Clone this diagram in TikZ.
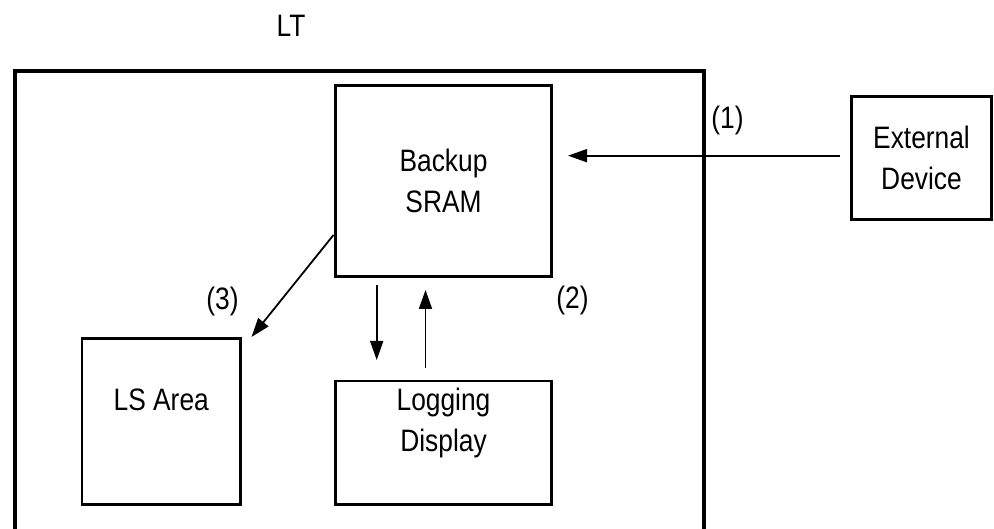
\documentclass[tikz,border=0pt]{standalone}
\usepackage{fontspec}
\setmainfont[FakeStretch=0.85]{Liberation Sans}
\usetikzlibrary{arrows.meta}
\begin{document}
\begin{tikzpicture}[x=1pt,y=1pt,
  every node/.style={font=\fontsize{31}{41}\selectfont,inner sep=0pt,outer sep=0pt},
  unit/.style={draw,line width=2.8pt,align=center},
  arr/.style={line width=1.8pt,-{Triangle[length=19pt,width=13pt]}}]
\useasboundingbox (0,0) rectangle (994,529);
\node[draw,line width=4pt,minimum width=689.3pt,minimum height=478pt] (ltbox) at (359.35,219) {};
\node (lt) at (291,502.7) {LT};
\node[unit,minimum width=216pt,minimum height=191pt] (sram) at (443.5,348) {Backup\\SRAM};
\node[unit,minimum width=140pt,minimum height=123pt] (ext) at (921.5,371) {External\\Device};
\node[unit,minimum width=158.5pt,minimum height=166pt] (ls) at (161.25,107.5) {};
\node[unit,minimum width=216pt,minimum height=123.5pt] (logd) at (443.5,86.25) {};
\node (lstxt) at ([yshift=21.5pt]ls.center) {LS Area};
\node[align=center] (logdtxt) at ([yshift=19.75pt]logd.center) {Logging\\Display};
\node (n1) at (727.5,408.2) {(1)};
\node (n2) at (572.5,228.5) {(2)};
\node (n3) at (222.5,228) {(3)};
\draw[arr] ([xshift=-11.5pt,yshift=2.3pt]ext.west) -- ([xshift=16.5pt,yshift=25.3pt]sram.east);
\draw[arr] ([xshift=41.2pt,yshift=-8.5pt]sram.south west) -- ([xshift=41.2pt,yshift=21pt]logd.north west);
\draw[arr] ([xshift=90pt,yshift=13pt]logd.north west) -- ([xshift=90pt,yshift=-13.5pt]sram.south west);
\draw[arr] ([xshift=-2pt,yshift=41.5pt]sram.south west) -- ([xshift=11pt,yshift=1.5pt]ls.north east);
\end{tikzpicture}
\end{document}
